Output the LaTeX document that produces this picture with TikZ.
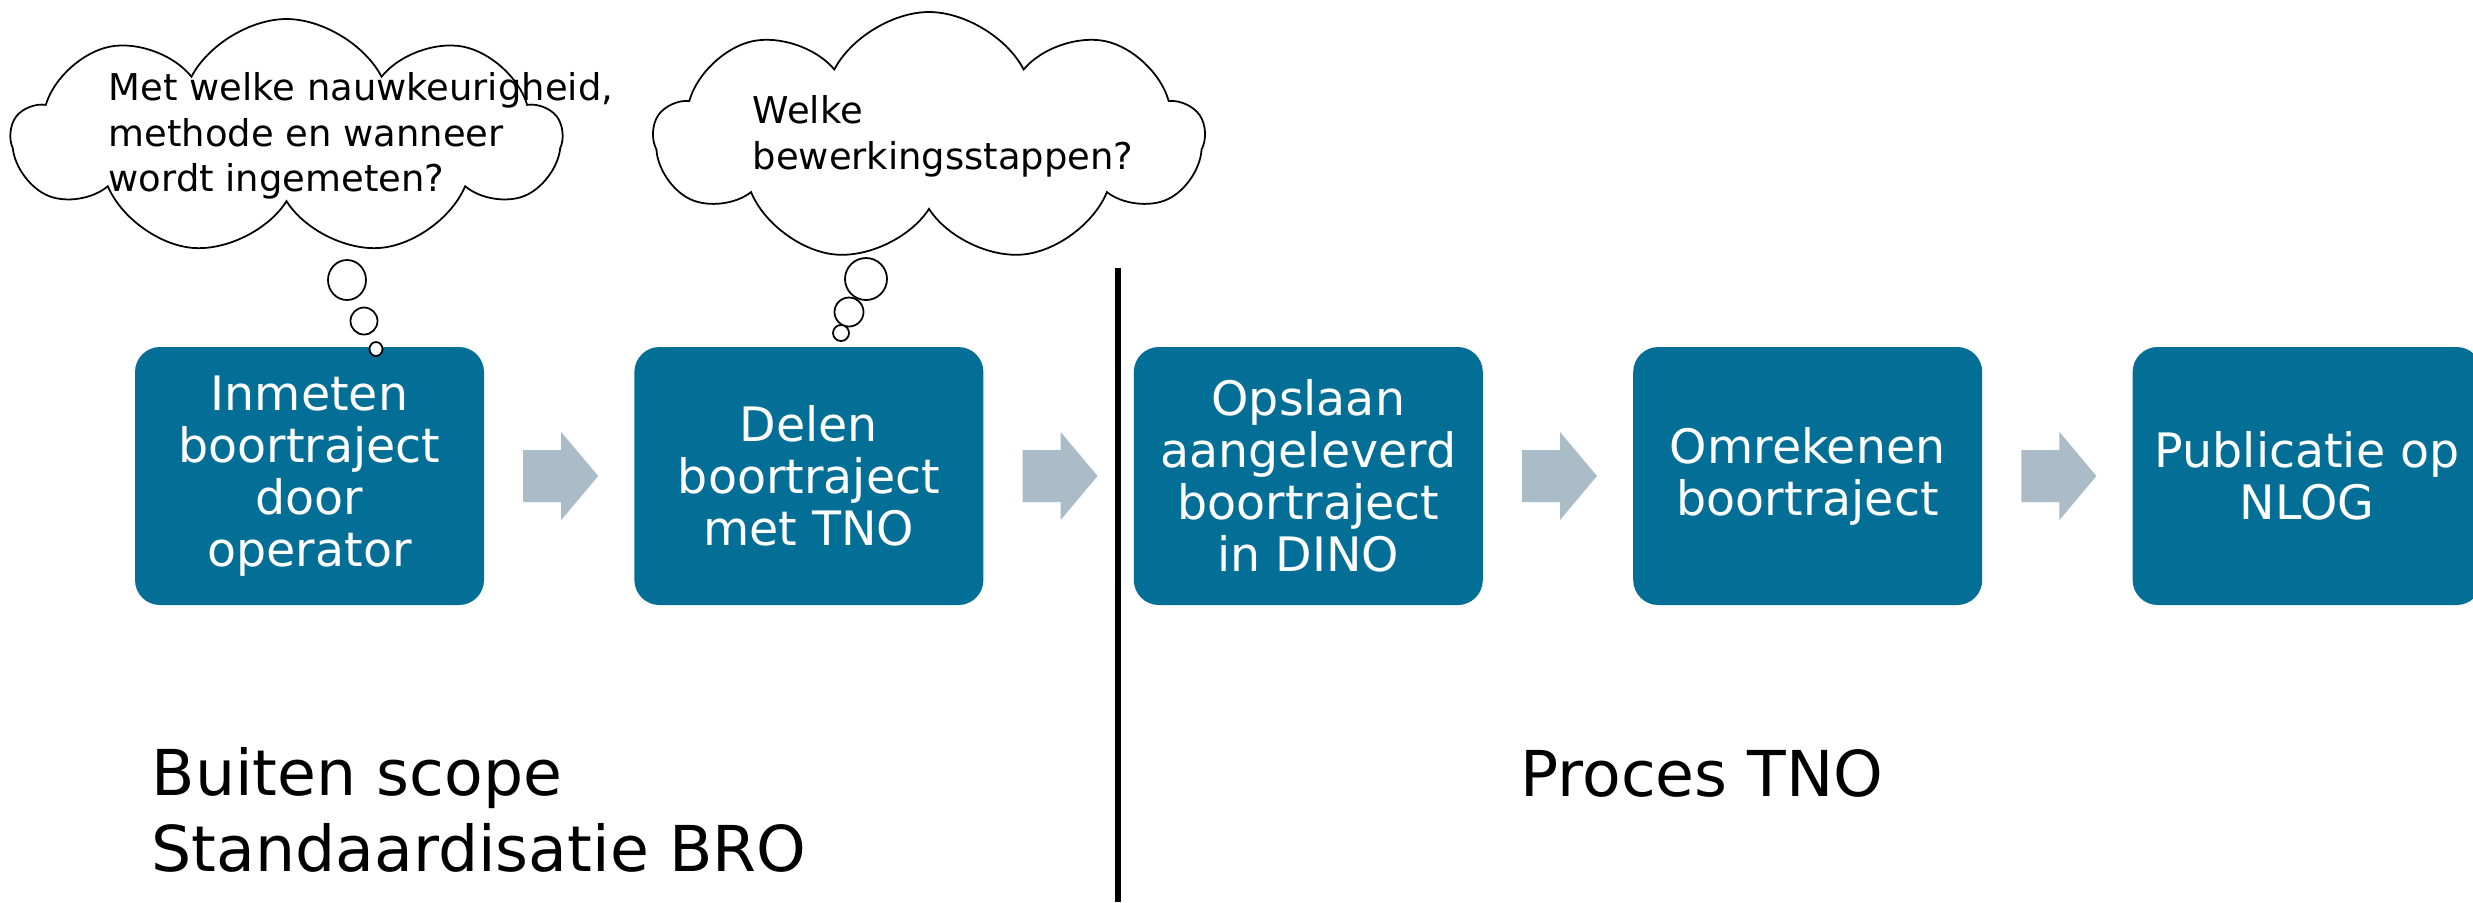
\documentclass[tikz,border=0pt]{standalone}
\usepackage{fontspec}
\setmainfont{DejaVu Sans}
\usepackage{tikz}
\usetikzlibrary{shapes,shapes.symbols,positioning,calc}
\definecolor{stepblue}{RGB}{4,111,150}
\definecolor{flowgray}{RGB}{171,188,201}

\begin{document}
\begin{tikzpicture}[
    node distance=1.49cm,
    stepbox/.style={rectangle, rounded corners=0.25cm, fill=stepblue, text=white, minimum width=3.49cm, minimum height=2.58cm, inner sep=0pt, align=center, font=\fontsize{13.5}{14.8}\selectfont},
    thought/.style={cloud, cloud puffs=9, cloud puff arc=125, cloud ignores aspect, draw, line width=0.5pt, fill=white, inner sep=0pt},
    question/.style={anchor=north west, inner sep=0pt, align=left, font=\fontsize{10.5}{12.9}\selectfont},
    bubble/.style={draw, line width=0.5pt, fill=white},
    scopelabel/.style={inner sep=0pt, align=left, font=\fontsize{18}{21.5}\selectfont}
]
    \useasboundingbox (0,0) rectangle (24.73,-9.02);

    % Process steps
    \node[stepbox] (inmeten) at (3.095,-4.76) {Inmeten\\boortraject\\door\\operator};
    \node[stepbox, right=of inmeten] (delen) {Delen\\boortraject\\met TNO};
    \node[stepbox, right=of delen] (opslaan) {Opslaan\\aangeleverd\\boortraject\\in DINO};
    \node[stepbox, right=of opslaan] (omrekenen) {Omrekenen\\boortraject};
    \node[stepbox, right=of omrekenen] (publicatie) {Publicatie op\\NLOG};

    % Arrows
    \foreach \a/\b in {inmeten/delen, delen/opslaan, opslaan/omrekenen, omrekenen/publicatie} {
        \fill[flowgray] ($(\a.east)!0.5!(\b.west)$) ++(-0.36,0.26) -- ++(0.38,0) -- ++(0,0.18) -- ++(0.37,-0.44) -- ++(-0.37,-0.44) -- ++(0,0.18) -- ++(-0.38,0) -- cycle;
    }

    % Divider
    \draw[line width=1.7pt] (11.18,-2.68) -- (11.18,-9.02);

    % Thoughts
    \node[thought, minimum width=5.49cm, minimum height=2.36cm] (cloudA) at (2.865,-1.37) {};
    \node[question] (qA) at (1.08,-0.72) {Met welke nauwkeurigheid,\\methode en wanneer\\wordt ingemeten?};
    \draw[bubble] (3.47,-2.80) ellipse (0.19 and 0.20);
    \draw[bubble] (3.64,-3.21) ellipse (0.135 and 0.135);
    \draw[bubble] (3.76,-3.49) ellipse (0.065 and 0.07);

    \node[thought, minimum width=5.5cm, minimum height=2.5cm] (cloudB) at (9.29,-1.37) {};
    \node[question] (qB) at (7.52,-0.95) {Welke\\bewerkingsstappen?};
    \draw[bubble] (8.66,-2.79) ellipse (0.21 and 0.21);
    \draw[bubble] (8.49,-3.12) ellipse (0.145 and 0.145);
    \draw[bubble] (8.41,-3.33) ellipse (0.08 and 0.08);

    % Scope labels
    \node[scopelabel, anchor=north west] (buiten) at (1.51,-7.47) {Buiten scope\\Standaardisatie BRO};
    \node[scopelabel, anchor=base west] (proces) at (15.2,-7.96) {Proces TNO};
\end{tikzpicture}
\end{document}
